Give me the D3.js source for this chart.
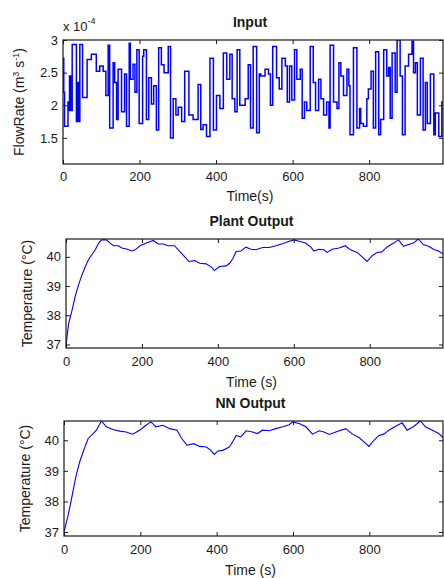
<!DOCTYPE html>
<html>
<head>
<meta charset="utf-8">
<script src="https://cdn.jsdelivr.net/npm/d3@7"></script>
<style>
  body { margin: 0; background: #fff; }
  svg { display: block; font-family: "Liberation Sans", Arial, sans-serif; }
</style>
</head>
<body>
<svg id="chart" width="444" height="578"></svg>
<script>
// ---- data ----
const timeEnd = 993;

// input: step signal, start time of each step (s) and flow rate (x 1e-4 m3/s)
const inputTimes = [0, 2, 4, 13, 16, 17, 20, 24, 35, 38, 40, 44, 51, 63, 74, 87, 96, 105, 112, 118,
  122, 131, 135, 140, 144, 153, 161, 166, 173, 176, 183, 188, 193, 199, 208, 211, 218, 224, 231, 237,
  244, 250, 257, 264, 275, 281, 288, 295, 301, 310, 318, 329, 340, 353, 360, 366, 375, 384, 393, 401,
  410, 419, 428, 436, 442, 449, 455, 462, 476, 484, 490, 497, 506, 513, 517, 528, 537, 542, 548, 558,
  565, 572, 581, 586, 592, 598, 605, 611, 620, 625, 631, 637, 646, 654, 660, 668, 674, 681, 689, 695,
  698, 707, 716, 721, 726, 733, 742, 747, 750, 759, 768, 775, 778, 785, 794, 798, 805, 811, 817, 825,
  830, 838, 846, 851, 855, 860, 868, 873, 881, 887, 894, 903, 912, 916, 921, 926, 934, 941, 947, 952,
  960, 969, 973, 982, 990];
const inputFlow = [2.72, 2.2, 1.68, 2.05, 1.92, 2.45, 1.92, 2.93, 1.75, 2.35, 1.75, 2.93, 2.12, 2.7, 2.78, 2.52, 2.6, 2.52, 2.15, 2.92,
  1.65, 2.65, 2.35, 1.78, 2.55, 1.9, 2.48, 1.68, 2.95, 2.4, 2.63, 2.2, 2.85, 1.72, 2.75, 2.85, 1.78, 2.42, 2.02, 2.3,
  1.62, 2.88, 2.62, 2.5, 2.9, 1.5, 2.1, 1.85, 1.97, 1.75, 2.52, 1.85, 1.78, 2.32, 1.63, 1.7, 1.52, 2.72, 1.62, 2.15,
  1.95, 2.8, 2.4, 2.78, 2.1, 1.9, 2.85, 2.0, 2.1, 2.62, 1.65, 2.9, 1.58, 2.48, 2.45, 2.55, 2.48, 2.0, 2.9, 2.42,
  2.25, 2.72, 2.6, 2.05, 2.6, 2.08, 2.85, 2.4, 2.55, 1.8, 2.05, 1.92, 2.9, 2.35, 1.92, 2.4, 2.1, 1.85, 2.05, 1.65,
  2.92, 2.05, 1.95, 2.65, 2.45, 2.15, 2.55, 2.3, 1.55, 2.88, 1.65, 1.95, 1.72, 1.68, 2.1, 2.25, 2.52, 1.65, 2.82, 1.55,
  1.78, 2.85, 2.45, 2.58, 1.8, 2.8, 2.2, 3.0, 2.45, 1.55, 2.6, 2.78, 2.98, 2.5, 2.65, 1.85, 2.72, 1.62, 2.35, 1.72,
  2.48, 1.55, 1.88, 1.52, 2.05];

// plant output temperature (°C)
const plantTimes = [0, 7, 16, 24, 33, 42, 51, 59, 68, 77, 86, 94, 107, 116, 125, 138, 147, 160, 173, 182,
  195, 212, 230, 243, 256, 269, 286, 300, 313, 324, 339, 352, 369, 383, 391, 404, 422, 431, 440, 448,
  461, 474, 487, 500, 518, 535, 553, 570, 588, 601, 614, 631, 645, 653, 666, 679, 688, 701, 719, 736,
  749, 767, 780, 793, 806, 819, 832, 845, 863, 876, 889, 902, 915, 928, 941, 955, 968, 981, 993];
const plantTemp = [36.97, 37.72, 38.18, 38.64, 39.04, 39.38, 39.67, 39.9, 40.07, 40.24, 40.47, 40.58, 40.58, 40.47, 40.38, 40.38, 40.3, 40.27, 40.2, 40.24,
  40.38, 40.47, 40.56, 40.44, 40.44, 40.38, 40.38, 40.18, 40.0, 39.84, 39.87, 39.78, 39.76, 39.65, 39.53, 39.67, 39.69, 39.78, 39.95, 40.18,
  40.2, 40.33, 40.26, 40.24, 40.32, 40.32, 40.38, 40.45, 40.53, 40.58, 40.53, 40.47, 40.33, 40.2, 40.26, 40.24, 40.15, 40.26, 40.3, 40.38,
  40.24, 40.15, 40.0, 39.84, 40.03, 40.15, 40.17, 40.33, 40.47, 40.58, 40.36, 40.42, 40.47, 40.61, 40.42, 40.36, 40.26, 40.2, 40.1];

// neural network output temperature (°C)
const nnTimes = [0, 10, 19, 31, 41, 51, 63, 85, 98, 111, 128, 146, 163, 180, 198, 215, 228, 241, 259, 277,
  296, 309, 322, 340, 355, 373, 385, 394, 403, 416, 433, 442, 451, 463, 477, 494, 507, 520, 538, 555,
  573, 590, 599, 616, 634, 651, 669, 681, 695, 712, 738, 756, 773, 786, 799, 812, 825, 838, 851, 869,
  886, 899, 917, 934, 947, 965, 982, 993];
const nnTemp = [37.0, 37.5, 38.04, 38.8, 39.29, 39.65, 40.05, 40.33, 40.63, 40.44, 40.35, 40.3, 40.27, 40.2, 40.33, 40.49, 40.6, 40.44, 40.49, 40.38,
  40.33, 40.05, 39.84, 39.89, 39.8, 39.78, 39.67, 39.54, 39.65, 39.67, 39.78, 39.95, 40.16, 40.11, 40.31, 40.27, 40.22, 40.33, 40.31, 40.38,
  40.44, 40.51, 40.6, 40.55, 40.44, 40.2, 40.31, 40.27, 40.19, 40.27, 40.38, 40.2, 40.09, 39.95, 39.8, 40.0, 40.16, 40.2, 40.33, 40.46,
  40.57, 40.33, 40.46, 40.63, 40.44, 40.33, 40.22, 40.09];

const xTicks = [0, 200, 400, 600, 800];
const flowTicks = [1.5, 2, 2.5, 3];
const tempTicks = [37, 38, 39, 40];

// ---- drawing ----
const svg = d3.select('#chart');
const blue = '#0000ff';
const ink = '#1a1a1a';

function panel(opt) {
  const w = opt.right - opt.left;
  const h = opt.bottom - opt.top;
  const x = d3.scaleLinear().domain([0, timeEnd]).range([0, w]);
  const y = d3.scaleLinear().domain(opt.yDomain).range([h, 0]);

  const g = svg.append('g').attr('transform', `translate(${opt.left},${opt.top})`);

  g.append('defs').append('clipPath').attr('id', opt.id)
    .append('rect').attr('width', w).attr('height', h);

  const line = d3.line()
    .x(d => x(d[0]))
    .y(d => y(d[1]))
    .curve(opt.step ? d3.curveStepAfter : d3.curveLinear);

  g.append('path')
    .datum(opt.data)
    .attr('clip-path', `url(#${opt.id})`)
    .attr('fill', 'none')
    .attr('stroke', blue)
    .attr('stroke-width', opt.lw)
    .attr('d', line);

  // axes, ticks pointing inwards on all four sides (matlab style)
  const bottomAxis = g.append('g').attr('transform', `translate(0,${h})`)
    .call(d3.axisBottom(x).tickValues(xTicks).tickSizeInner(-4).tickSizeOuter(0).tickPadding(opt.xPad));
  g.append('g')
    .call(d3.axisTop(x).tickValues(xTicks).tickSizeInner(-4).tickSizeOuter(0).tickFormat(''));
  const leftAxis = g.append('g')
    .call(d3.axisLeft(y).tickValues(opt.yTicks).tickSizeInner(-4).tickSizeOuter(0)
      .tickPadding(5).tickFormat(d => String(d)));
  g.append('g').attr('transform', `translate(${w},0)`)
    .call(d3.axisRight(y).tickValues(opt.yTicks).tickSizeInner(-4).tickSizeOuter(0).tickFormat(''));

  g.selectAll('.domain').remove();
  g.selectAll('.tick line').attr('stroke', ink);
  [bottomAxis, leftAxis].forEach(a => a.selectAll('text')
    .attr('fill', ink).style('font-size', '13px').style('font-family', '"Liberation Sans", Arial, sans-serif'));

  g.append('rect')
    .attr('width', w).attr('height', h)
    .attr('fill', 'none').attr('stroke', ink).attr('stroke-width', 1.2);

  // title
  g.append('text')
    .attr('x', w / 2 - 3).attr('y', opt.titleY - opt.top)
    .attr('text-anchor', 'middle')
    .style('font-size', '14px').style('font-weight', 'bold')
    .attr('fill', ink)
    .text(opt.title);

  // x label
  g.append('text')
    .attr('x', w / 2 - 3).attr('y', opt.xLabelY - opt.top)
    .attr('text-anchor', 'middle')
    .style('font-size', '14px')
    .attr('fill', ink)
    .text(opt.xLabel);

  // y label
  const yl = g.append('text')
    .attr('transform', `translate(${opt.yLabelX - opt.left},${h / 2}) rotate(-90)`)
    .attr('text-anchor', 'middle')
    .style('font-size', '14px')
    .attr('fill', ink);
  opt.yLabel(yl);

  return g;
}

const inputData = inputTimes.map((t, i) => [t, inputFlow[i]]);
inputData.push([timeEnd, inputFlow[inputFlow.length - 1]]);

panel({
  id: 'clipTop', left: 63, right: 443, top: 40, bottom: 164,
  yDomain: [1.1, 3], yTicks: flowTicks, data: inputData, step: true, lw: 1.5,
  xPad: 8, title: 'Input', titleY: 27, xLabel: 'Time(s)', xLabelY: 201, yLabelX: 24,
  yLabel: t => {
    t.append('tspan').text('FlowRate (m');
    t.append('tspan').attr('dy', -5).style('font-size', '9px').text('3');
    t.append('tspan').attr('dy', 5).text(' s');
    t.append('tspan').attr('dy', -5).style('font-size', '9px').text('-1');
    t.append('tspan').attr('dy', 5).text(')');
  }
});

// exponent note above the input axes
const ex = svg.append('text').attr('x', 63).attr('y', 31)
  .style('font-size', '13px').attr('fill', ink);
ex.append('tspan').text('x 10');
ex.append('tspan').attr('dy', -7).style('font-size', '9px').text('-4');

panel({
  id: 'clipMid', left: 66, right: 443, top: 239, bottom: 348,
  yDomain: [36.88, 40.61], yTicks: tempTicks, data: plantTimes.map((t, i) => [t, plantTemp[i]]),
  step: false, lw: 1.1,
  xPad: 9, title: 'Plant Output', titleY: 226, xLabel: 'Time (s)', xLabelY: 387, yLabelX: 32,
  yLabel: t => t.text('Temperature (°C)')
});

panel({
  id: 'clipBot', left: 64, right: 443, top: 421, bottom: 536,
  yDomain: [36.87, 40.63], yTicks: tempTicks, data: nnTimes.map((t, i) => [t, nnTemp[i]]),
  step: false, lw: 1.1,
  xPad: 9, title: 'NN Output', titleY: 408, xLabel: 'Time (s)', xLabelY: 575, yLabelX: 30,
  yLabel: t => t.text('Temperature (°C)')
});
</script>
</body>
</html>
